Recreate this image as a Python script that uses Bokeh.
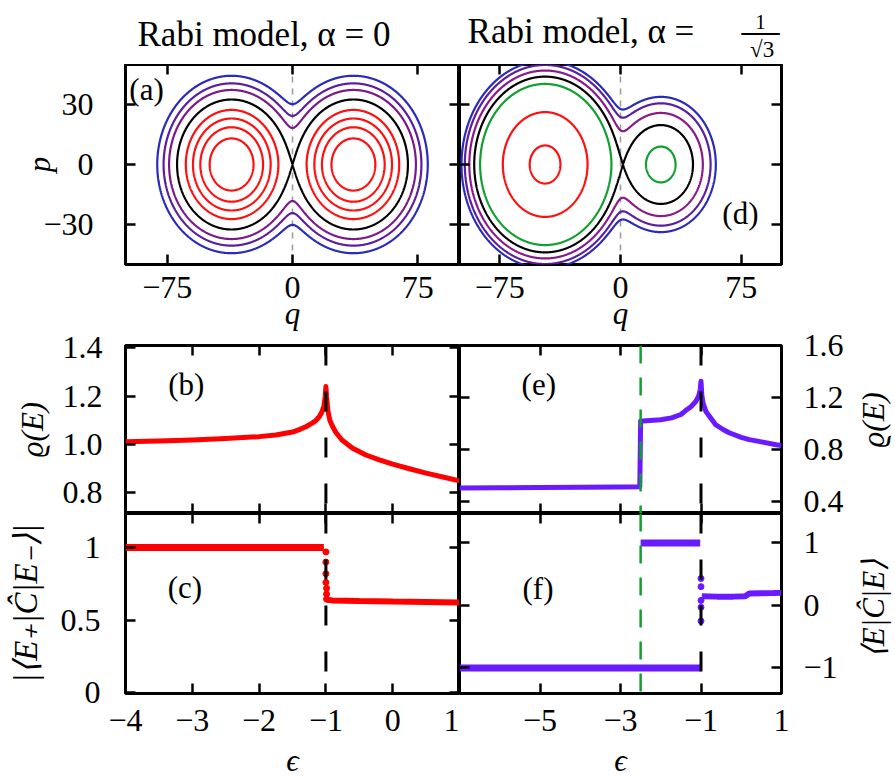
import math
import numpy as np
from bokeh.plotting import figure
from bokeh.models import Range1d, LinearAxis, FixedTicker, Span, Label
from bokeh.layouts import column, row
from bokeh.embed import file_html
from bokeh.resources import INLINE

# ---------------- data ----------------
# (a), (d) phase-space orbits of E(q,p) = (q^2+p^2)/2 + tilt*q - A*sqrt(q^2+b^2)
A_a, tilt_a = 36.75, 0.0
A_d, tilt_d = 36.3, 10.7
b_gap = 4.25
# left p=0 crossing of each orbit (None = separatrix through the saddle)
orbit_a_q = [-49.6, -55.2, -59.6, -63.9, None, -73.9, -77.2, -81.0]
orbit_a_color = ["#ff1010", "#ff1010", "#ff1010", "#ff1010", "#000000", "#7a1a8a", "#5a1ea0", "#2a2abb"]
orbit_d_q = [-56.4, -73.1, -87.2, None, -93.9, -96.7, -98.75]
orbit_d_color = ["#ff1010", "#ff1010", "#10a030", "#000000", "#8a1a8a", "#5a1ea0", "#2a2abb"]

# (b) density of states, alpha = 0
b_eps = [-4.0, -3.5, -3.0, -2.5, -2.0, -1.75, -1.5, -1.4, -1.3, -1.2, -1.15, -1.1, -1.06,
         -1.03, -1.01, -1.0, -0.99, -0.97, -0.94, -0.9, -0.85, -0.76, -0.6, -0.4, -0.2,
         0.0, 0.25, 0.5, 0.75, 1.0]
b_rho = [1.012, 1.015, 1.019, 1.025, 1.033, 1.04, 1.052, 1.062, 1.074, 1.09, 1.10, 1.115, 1.135,
         1.16, 1.20, 1.24, 1.20, 1.14, 1.10, 1.075, 1.05, 1.019, 0.985, 0.957, 0.937,
         0.919, 0.90, 0.882, 0.866, 0.85]
# (c) |<E+|C|E->|
c_eps_hi = [-4.0, -3.0, -2.0, -1.5, -1.03]
c_val_hi = [1.0, 1.0, 1.0, 1.0, 1.0]
c_eps_jump = [-1.0, -1.0, -1.0, -1.0, -0.99, -0.99, -0.99]
c_val_jump = [0.97, 0.90, 0.82, 0.76, 0.72, 0.68, 0.645]
c_eps_lo = [-0.99, -0.9, -0.5, 0.0, 0.5, 1.0]
c_val_lo = [0.641, 0.636, 0.632, 0.628, 0.625, 0.622]
# (e) density of states, alpha = 1/sqrt(3)
e_eps = [-7.0, -6.0, -5.0, -4.0, -3.0, -2.52, -2.5, -2.45, -2.0, -1.73, -1.5, -1.38, -1.25,
         -1.13, -1.06, -1.02, -1.0, -0.98, -0.95, -0.88, -0.8, -0.63, -0.45, -0.3, 0.0, 0.2,
         0.5, 0.87, 1.0]
e_rho = [0.505, 0.507, 0.509, 0.511, 0.513, 0.515, 1.02, 1.02, 1.03, 1.044, 1.07, 1.10, 1.13,
         1.17, 1.21, 1.26, 1.325, 1.22, 1.16, 1.095, 1.06, 0.99, 0.955, 0.93, 0.895, 0.877,
         0.86, 0.838, 0.832]
# (f) <E|C|E>
f_eps_m1 = [-7.0, -5.0, -3.0, -1.02]
f_val_m1 = [-1.0, -1.0, -1.0, -1.0]
f_eps_p1 = [-2.5, -2.0, -1.5, -1.02]
f_val_p1 = [1.0, 1.0, 1.0, 1.0]
f_eps_jump = [-1.0, -1.0, -1.0, -1.0, -1.0]
f_val_jump = [0.43, 0.30, 0.08, -0.03, -0.25]
f_eps_mid = [-0.98, -0.6, -0.2, 0.1, 0.2, 0.5, 0.8, 1.0]
f_val_mid = [0.145, 0.14, 0.14, 0.145, 0.19, 0.195, 0.197, 0.2]

eps_esqpt = -1.0
eps_green = -2.5

# ---------------- styling helpers ----------------
FONT = "Liberation Serif"
TICK_FS = "32px"
LAB_FS = "31px"
RED = "#ff0000"
VIOLET = "#6a1aff"
GREEN = "#10a030"


def bare_fig(w, h, xr, yr, bl=0, br=0, bt=0, bb=0):
    f = figure(width=w, height=h, x_range=Range1d(*xr), y_range=Range1d(*yr),
               output_backend="svg", toolbar_location=None, title=None,
               x_axis_location=None, y_axis_location=None,
               min_border_left=bl, min_border_right=br, min_border_top=bt, min_border_bottom=bb)
    for g in f.grid:
        g.visible = False
    f.outline_line_color = None
    f.background_fill_color = "white"
    f.border_fill_color = "white"
    return f


def base_fig(w, h, xr, yr, bl, br, bt, bb):
    f = bare_fig(w, h, xr, yr, bl, br, bt, bb)
    f.outline_line_color = "black"
    f.outline_line_width = 3
    f.outline_line_alpha = 1.0
    return f


def add_axis(f, side, ticks, labels=None, standoff=10, label=None, label_standoff=0,
             label_size=LAB_FS):
    ax = LinearAxis(ticker=FixedTicker(ticks=ticks))
    ax.major_tick_in = 10
    ax.major_tick_out = 0
    ax.major_tick_line_width = 2.5
    ax.major_tick_line_color = "black"
    ax.minor_tick_line_color = None
    ax.axis_line_color = None
    if labels is None:
        ax.major_label_text_color = None
        ax.major_label_text_font_size = "0px"
        ax.major_label_standoff = 0
    else:
        ax.major_label_overrides = dict(zip(ticks, labels))
        ax.major_label_text_font = FONT
        ax.major_label_text_font_size = TICK_FS
        ax.major_label_text_color = "black"
        ax.major_label_standoff = standoff
    if label:
        ax.axis_label = label
        ax.axis_label_text_font = FONT
        ax.axis_label_text_font_size = label_size
        ax.axis_label_text_font_style = "italic"
        ax.axis_label_text_color = "black"
        ax.axis_label_standoff = label_standoff
    f.add_layout(ax, side)
    return ax


def text_label(f, x, y, t, size="31px", style="normal", align="center", angle=0.0):
    f.add_layout(Label(x=x, y=y, text=t, text_align=align, text_baseline="middle",
                       angle=angle, text_font=FONT, text_font_size=size,
                       text_font_style=style, text_color="black"))


def phase_levels(A, tilt, qs):
    def V(q):
        return 0.5 * q * q + tilt * q - A * math.sqrt(q * q + b_gap * b_gap)
    qq = np.linspace(-3 * b_gap, 3 * b_gap, 4001)
    vv = 0.5 * qq ** 2 + tilt * qq - A * np.sqrt(qq ** 2 + b_gap ** 2)
    e_sep = float(vv.max())
    return [e_sep if q is None else V(q) for q in qs]


qg = np.linspace(-106, 106, 901)
pg = np.linspace(-56, 56, 481)
QQ, PP = np.meshgrid(qg, pg)


def energy(A, tilt):
    return 0.5 * (QQ ** 2 + PP ** 2) + tilt * QQ - A * np.sqrt(QQ ** 2 + b_gap ** 2)


q_ticks = [-75, 0, 75]
q_labels = ["\u221275", "0", "75"]
p_ticks = [-30, 0, 30]
p_labels = ["\u221230", "0", "30"]

LW, RW = 459, 436
H0, H1, H2, H3, H4 = 64, 269, 180, 234, 30
SW = 47            # width of the strip holding the right-hand axis titles
RWF = RW - SW      # width of the right-column figures in rows 2 and 3
q_range = (-100, 100)
eps_l = (-4, 1)
eps_r = (-7, 1)

# ---------------- title strips ----------------
st_l = bare_fig(LW, H0, q_range, (0, H0), 125, 0)
text_label(st_l, -92.8, 30, "Rabi model, \u03b1 = 0", size="35px", align="left")
st_r = bare_fig(RW, H0, q_range, (0, H0), 0, 114)
text_label(st_r, -95, 33, "Rabi model, \u03b1 =", size="35px", align="left")
text_label(st_r, 87, 43, "1", size="21px")
text_label(st_r, 87, 35, "\u2014", size="38px")
text_label(st_r, 88, 15, "\u221a3", size="23px")

# ---------------- (a) ----------------
fa = base_fig(LW, H1, q_range, (-50, 50), 125, 0, 0, 65)
fa.add_layout(Span(location=0, dimension="height", line_color="#9a9a9a", line_width=1.5,
                   line_dash="6 6", level="underlay"))
fa.contour(x=qg, y=pg, z=energy(A_a, tilt_a), levels=phase_levels(A_a, tilt_a, orbit_a_q),
           line_color=orbit_a_color, line_width=2.2)
add_axis(fa, "left", p_ticks, p_labels, standoff=32, label="p", label_standoff=-17)
add_axis(fa, "below", q_ticks, q_labels, standoff=12, label="q", label_standoff=-5)
add_axis(fa, "above", q_ticks)
add_axis(fa, "right", p_ticks)
text_label(fa, -87.4, 37.7, "(a)")

# ---------------- (d) ----------------
fd = base_fig(RW, H1, q_range, (-50, 50), 0, 114, 0, 65)
fd.add_layout(Span(location=0, dimension="height", line_color="#9a9a9a", line_width=1.5,
                   line_dash="6 6", level="underlay"))
fd.contour(x=qg, y=pg, z=energy(A_d, tilt_d), levels=phase_levels(A_d, tilt_d, orbit_d_q),
           line_color=orbit_d_color, line_width=2.2)
add_axis(fd, "left", p_ticks)
add_axis(fd, "right", p_ticks)
add_axis(fd, "below", q_ticks, q_labels, standoff=12, label="q", label_standoff=-5)
add_axis(fd, "above", q_ticks)
text_label(fd, 74.5, -24.5, "(d)")

# ---------------- (b) ----------------
eps_ticks_l = [-4, -3, -2, -1, 0, 1]
fb = base_fig(LW, H2, eps_l, (0.715, 1.41), 125, 0, 12, 0)
fb.line(b_eps, b_rho, line_color=RED, line_width=5, line_join="round")
fb.add_layout(Span(location=eps_esqpt, dimension="height", line_color="black", line_width=3,
                   line_dash="20 26"))
add_axis(fb, "left", [0.8, 1.0, 1.2, 1.4], ["0.8", "1.0", "1.2", "1.4"], standoff=23,
         label="\u03f1(E)", label_standoff=10)
add_axis(fb, "right", [0.8, 1.0, 1.2, 1.4])
add_axis(fb, "above", eps_ticks_l)
add_axis(fb, "below", eps_ticks_l)
text_label(fb, -3.09, 1.247, "(b)")

# ---------------- (e) ----------------
e_yr = (0.31, 1.6)
fe = base_fig(RWF, H2, eps_r, e_yr, 0, RWF - 322, 12, 0)
fe.line(e_eps, e_rho, line_color=VIOLET, line_width=5, line_join="round")
fe.add_layout(Span(location=eps_esqpt, dimension="height", line_color="black", line_width=3,
                   line_dash="20 26"))
fe.add_layout(Span(location=eps_green, dimension="height", line_color=GREEN, line_width=2.5,
                   line_dash="18 14"))
add_axis(fe, "right", [0.4, 0.8, 1.2, 1.6], ["0.4", "0.8", "1.2", "1.6"], standoff=22)
add_axis(fe, "left", [0.4, 0.8, 1.2])
add_axis(fe, "above", [-5, -3, -1])
add_axis(fe, "below", [-5, -3, -1])
text_label(fe, -5.03, 1.30, "(e)")
se = bare_fig(SW, H2, (0, SW), e_yr, 0, 0, 12, 0)
text_label(se, 25, 1.03, "\u03f1(E)", style="italic", angle=math.pi / 2)

# ---------------- (c) ----------------
fc = base_fig(LW, H3, eps_l, (-0.006, 1.235), 125, 0, 0, 54)
fc.line(c_eps_hi, c_val_hi, line_color=RED, line_width=7)
fc.scatter(c_eps_jump, c_val_jump, size=6, color=RED)
fc.line(c_eps_lo, c_val_lo, line_color=RED, line_width=6)
fc.add_layout(Span(location=eps_esqpt, dimension="height", line_color="black", line_width=3,
                   line_dash="20 26"))
add_axis(fc, "left", [0, 0.5, 1], ["0", "0.5", "1"], standoff=25,
         label="|\u27e8E\u208a|\u0108|E\u208b\u27e9|", label_standoff=14, label_size="33px")
add_axis(fc, "right", [0, 0.5, 1])
add_axis(fc, "above", eps_ticks_l)
add_axis(fc, "below", eps_ticks_l,
         ["\u22124", "\u22123", "\u22122", "\u22121", "0", "1"], standoff=16)
text_label(fc, -3.11, 0.724, "(c)")

# ---------------- (f) ----------------
f_yr = (-1.41, 1.47)
ff = base_fig(RWF, H3, eps_r, f_yr, 0, RWF - 322, 0, 54)
ff.line(f_eps_m1, f_val_m1, line_color=VIOLET, line_width=7)
ff.line(f_eps_p1, f_val_p1, line_color=VIOLET, line_width=7)
ff.scatter(f_eps_jump, f_val_jump, size=6, color=VIOLET)
ff.line(f_eps_mid, f_val_mid, line_color=VIOLET, line_width=6)
ff.add_layout(Span(location=eps_esqpt, dimension="height", line_color="black", line_width=3,
                   line_dash="20 26"))
ff.add_layout(Span(location=eps_green, dimension="height", line_color=GREEN, line_width=2.5,
                   line_dash="18 14"))
add_axis(ff, "right", [-1, 0, 1], ["\u22121", "0", "1"], standoff=22)
add_axis(ff, "left", [-1, 0, 1])
add_axis(ff, "above", [-5, -3, -1])
add_axis(ff, "below", [-5, -3, -1, 1], ["\u22125", "\u22123", "\u22121", "1"], standoff=16)
text_label(ff, -5.05, 0.27, "(f)")
sf = bare_fig(SW, H3, (0, SW), f_yr, 0, 0, 0, 54)
text_label(sf, 25, -0.05, "\u27e8E|\u0108|E\u27e9", style="italic", angle=math.pi / 2)

# ---------------- bottom strips with the epsilon axis titles ----------------
sb_l = bare_fig(LW, H4, eps_l, (0, H4), 125, 0)
text_label(sb_l, -1.5, 17.5, "\u03f5", style="italic")
sb_r = bare_fig(RW, H4, eps_r, (0, H4), 0, 114)
text_label(sb_r, -3, 17.5, "\u03f5", style="italic")

layout = column(row(st_l, st_r), row(fa, fd), row(fb, fe, se), row(fc, ff, sf), row(sb_l, sb_r))
open("out.html", "w").write(file_html(layout, INLINE))
